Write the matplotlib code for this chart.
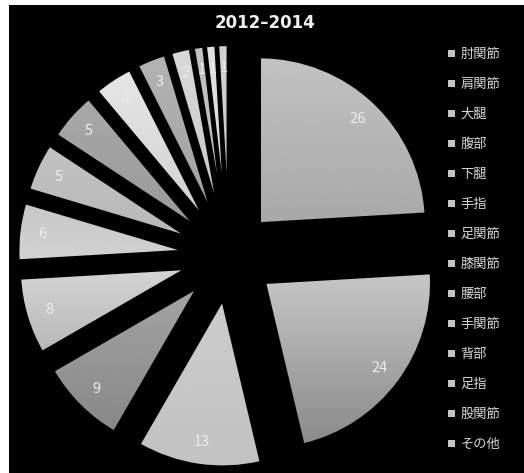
import numpy as np
import matplotlib
matplotlib.use("Agg")
import matplotlib.pyplot as plt
from matplotlib.patches import Rectangle

# data
title = "2012–2014"
parts = ["肘関節", "肩関節", "大腿", "腹部", "下腿", "手指", "足関節",
         "膝関節", "腰部", "手関節", "背部", "足指", "股関節", "その他"]
counts = [26, 24, 13, 9, 8, 6, 5, 5, 4, 3, 2, 1, 1, 1]

# top / bottom grey of each slice's gradient fill
shades = [(0.76, 0.66), (0.78, 0.54), (0.80, 0.76), (0.64, 0.53),
          (0.83, 0.72), (0.78, 0.82), (0.76, 0.72), (0.66, 0.60),
          (0.90, 0.82), (0.70, 0.63), (0.85, 0.78), (0.76, 0.74),
          (0.88, 0.84), (0.82, 0.78)]

plt.rcParams["font.family"] = ["Noto Sans CJK JP", "DejaVu Sans"]

W, H = 524, 473
fig = plt.figure(figsize=(W / 100, H / 100), dpi=100, facecolor="white")
ax = fig.add_axes([9 / W, 0, (W - 9) / W, (H - 5) / H])
ax.set_facecolor("black")

R = 166
# explode is in data units here (pixels)
wedges, texts = ax.pie(counts, labels=[str(c) for c in counts], startangle=90,
                       counterclock=False, center=(229, H - 256), radius=R,
                       explode=[45] * len(counts), labeldistance=0.86,
                       wedgeprops=dict(linewidth=1.6, edgecolor="black"),
                       textprops=dict(color="#ececec", fontsize=10.5,
                                      ha="center", va="center"))

# vertical grey gradient inside each wedge
for w, (top, bot) in zip(wedges, shades):
    x0, y0, x1, y1 = w.get_path().get_extents(w.get_patch_transform()).extents
    g = np.linspace(bot, top, 64).reshape(-1, 1)
    im = ax.imshow(g, cmap="gray", vmin=0, vmax=1, origin="lower",
                   extent=(x0, x1, y0, y1), aspect="auto", zorder=1,
                   interpolation="bilinear")
    im.set_clip_path(w)
    w.set_facecolor("none")
    w.set_zorder(2)
for t in texts:
    t.set_zorder(3)

ax.set_xlim(9, W)
ax.set_ylim(0, H - 5)
ax.set_aspect("auto")
ax.axis("off")
ax.add_patch(Rectangle((9, 0), W - 9, H - 5, color="black", zorder=0))

fig.text(265 / W, 1 - 23 / H, title, color="#f0f0f0", fontsize=12,
         fontweight="bold", family="DejaVu Sans", ha="center", va="center")

handles = [Rectangle((0, 0), 1, 1, facecolor="#c4c4c4", edgecolor="none")
           for _ in parts]
leg = fig.legend(handles, parts, loc="upper left",
                 bbox_to_anchor=(448 / W, 1 - 48 / H), frameon=False,
                 fontsize=9.5, labelcolor="#d8d8d8", handlelength=0.5,
                 handleheight=0.5, handletextpad=0.45, labelspacing=1.29,
                 borderpad=0, borderaxespad=0)

fig.savefig("out.png", dpi=100, facecolor="white")
